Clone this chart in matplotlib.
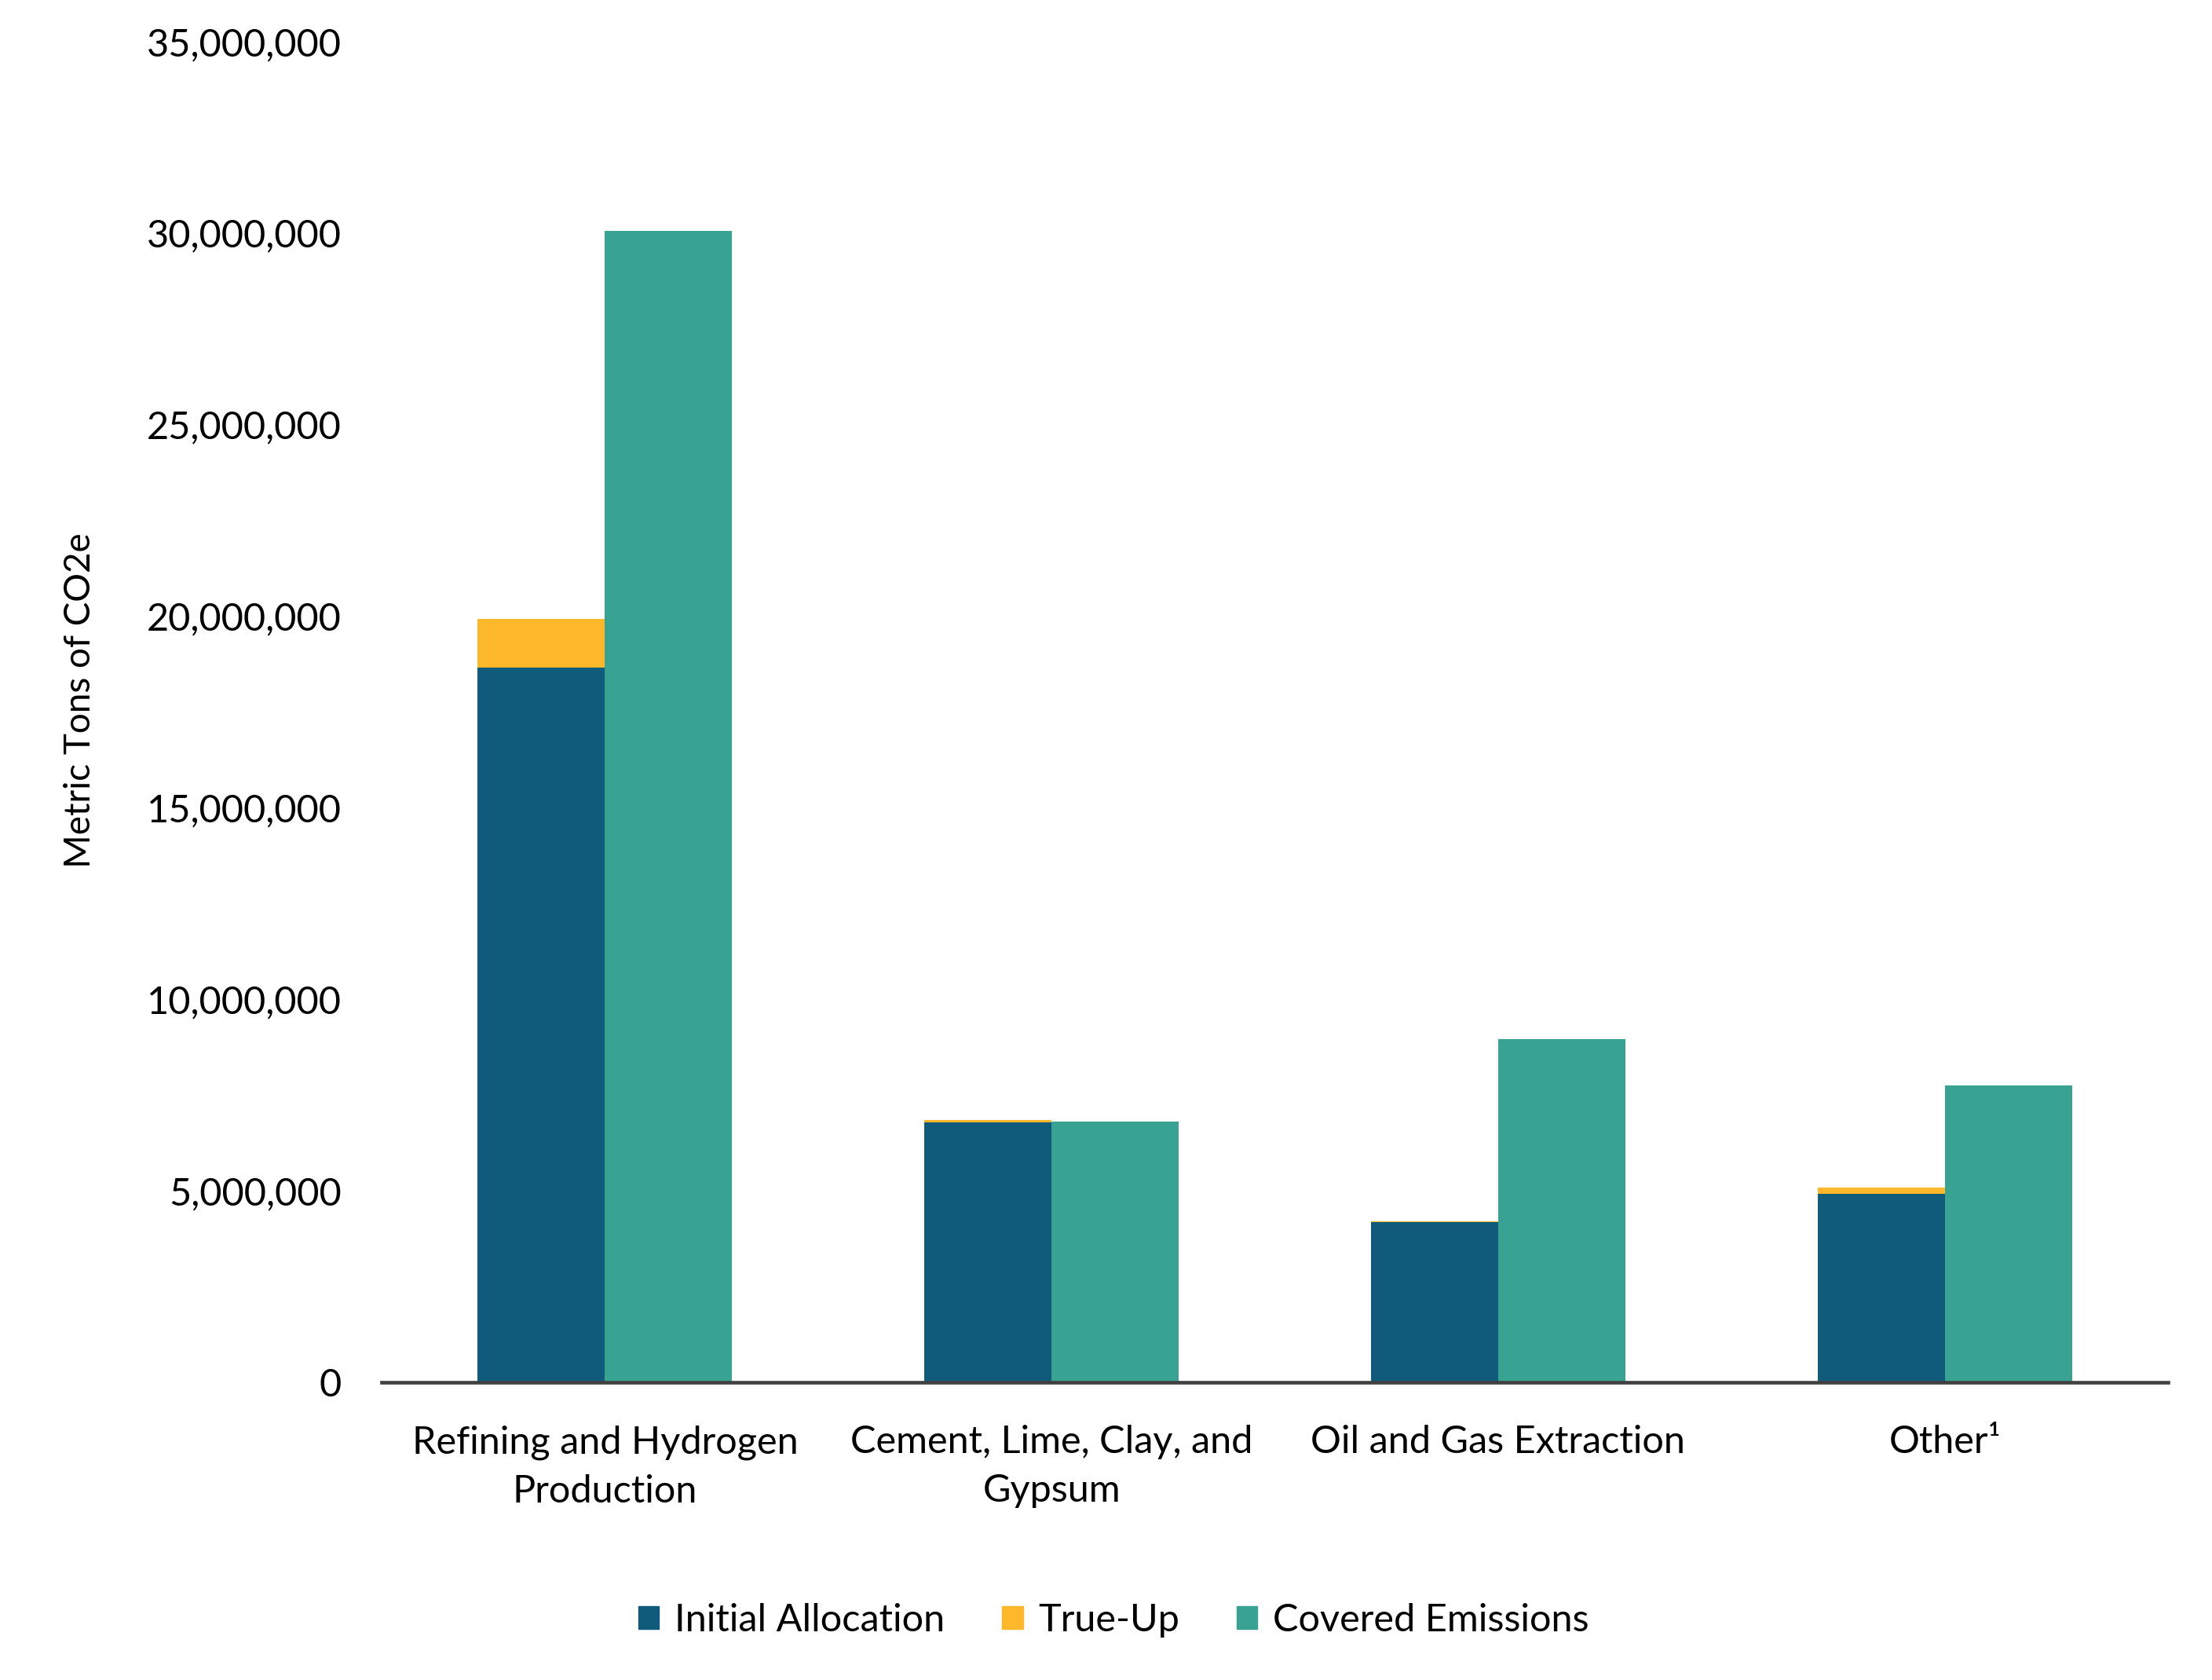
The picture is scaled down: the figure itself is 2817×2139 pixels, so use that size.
import matplotlib
matplotlib.use("Agg")
import matplotlib.pyplot as plt
from matplotlib.patches import Patch
from matplotlib.ticker import FuncFormatter

# values (metric tons CO2e)
categories = ["Refining and Hydrogen\nProduction", "Cement, Lime, Clay, and\nGypsum",
              "Oil and Gas Extraction", "Other\u00b9"]
initial_allocation = [18650000, 6780000, 4180000, 4920000]
true_up = [1270000, 60000, 20000, 160000]
covered_emissions = [30050000, 6800000, 8950000, 7750000]

series_names = ["Initial Allocation", "True-Up", "Covered Emissions"]
c_init, c_true, c_cov = "#105A7B", "#FDB72A", "#38A393"

plt.rcParams["font.family"] = ["Lato", "DejaVu Sans"]
FS = 35

fig = plt.figure(figsize=(28.17, 21.39), dpi=100)
ax = fig.add_axes([486 / 2817, 1 - 1760 / 2139, (2761 - 486) / 2817, (1760 - 53) / 2139])

x = list(range(len(categories)))
w = 0.285
xl = [i - w / 2 for i in x]
xr = [i + w / 2 for i in x]
ax.bar(xl, initial_allocation, width=w, color=c_init)
ax.bar(xl, true_up, width=w, bottom=initial_allocation, color=c_true)
ax.bar(xr, covered_emissions, width=w, color=c_cov)

ax.set_xlim(-0.5, 3.5)
ax.set_ylim(0, 35000000)
ax.set_yticks(range(0, 35000001, 5000000))
ax.yaxis.set_major_formatter(FuncFormatter(lambda v, p: f"{int(v):,}"))
ax.set_xticks(x)
ax.set_xticklabels(categories, linespacing=1.5)
ax.tick_params(axis="y", length=0, pad=37, labelsize=FS)
ax.tick_params(axis="x", length=0, pad=39, labelsize=FS)

for s in ["top", "right", "left"]:
    ax.spines[s].set_visible(False)
ax.spines["bottom"].set_color("#404040")
ax.spines["bottom"].set_linewidth(3.3)

fig.text(102 / 2817, 1 - 892 / 2139, "Metric Tons of CO2e", rotation=90,
         ha="center", va="center", fontsize=33)

handles = [Patch(color=c) for c in (c_init, c_true, c_cov)]
fig.legend(handles, series_names, loc="center", bbox_to_anchor=(1418 / 2817, 1 - 2063 / 2139),
           ncol=3, frameon=False, fontsize=FS, handlelength=0.55, handleheight=0.55,
           handletextpad=0.4, columnspacing=1.5)

fig.savefig("out.png", dpi=100)
